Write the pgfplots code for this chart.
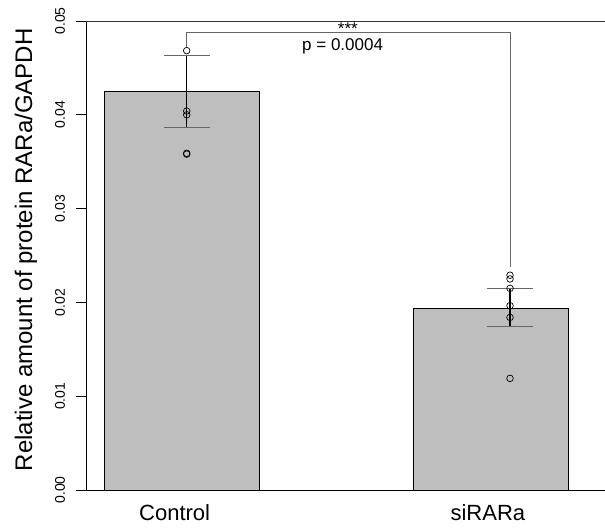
\documentclass[border=0pt]{standalone}
\usepackage{fontspec}
\setmainfont{Liberation Sans}
\usepackage{pgfplots}
\pgfplotsset{compat=1.18}
\definecolor{barfill}{HTML}{BEBEBE}
\begin{document}
\begin{tikzpicture}
\begin{axis}[name=ax, scale only axis, width=519pt, height=469pt,
  xmin=0.382, xmax=3.737, ymin=0, ymax=0.05,
  axis lines*=left,
  axis line style={line width=0.8pt},
  clip=false,
  xtick={0.955,2.98}, xticklabels={Control,siRARa},
  x tick style={draw=none},
  xticklabel style={font=\fontsize{22}{26}\selectfont, anchor=base},
  xticklabel shift=21pt,
  ytick={0,0.01,0.02,0.03,0.04,0.05},
  scaled y ticks=false,
  tick align=outside, major tick length=10pt,
  y tick style={line width=0.8pt, black},
  yticklabel style={font=\fontsize{14}{16}\selectfont, rotate=90, anchor=base},
  yticklabel shift=11pt,
  /pgf/number format/fixed, /pgf/number format/fixed zerofill,
  /pgf/number format/precision=2, /pgf/number format/assume math mode=true,
  ylabel={Relative amount of protein RARa/GAPDH},
  every axis y label/.style={at={(rel axis cs:-0.104,0.512)}, anchor=base, rotate=90, font=\fontsize{24}{28}\selectfont},
]
% bars
\addplot[ybar, bar width=1, fill=barfill, draw=black, line width=0.6pt] coordinates {(1,0.04246) (3,0.01937)};
% error bars
\addplot[draw=none, mark=none, error bars/.cd, y dir=both, y explicit,
  error bar style={draw=black, line width=1.2pt},
  error mark options={rotate=90, mark size=23pt, line width=0.8pt, draw=black!60}]
  coordinates {(1.033,0.04246) +- (0,0.00384) (3.123,0.01945) +- (0,0.00205)};
% individual points
\addplot[only marks, mark=o, mark size=3.3pt, mark options={line width=0.7pt, black}] coordinates {
  (1.033,0.04684) (1.033,0.0404) (1.033,0.0400) (1.033,0.0359) (1.033,0.0358)
  (3.123,0.0229) (3.123,0.0225) (3.123,0.0215) (3.123,0.01965) (3.123,0.0184) (3.123,0.0119)};
% significance bracket
\addplot[line width=0.7pt, black!60] coordinates {(1.033,0.0471) (1.033,0.04875) (3.123,0.04875) (3.123,0.0238)};
\node[anchor=base, font=\fontsize{17}{20}\selectfont] at (axis cs:2.075,0.04861) {***};
\node[anchor=base, font=\fontsize{17}{20}\selectfont] at (axis cs:2.041,0.04683) {p = 0.0004};
\draw[line width=0.8pt, black!80] (rel axis cs:0,1) -- (rel axis cs:1,1);
\draw[line width=0.8pt] ([xshift=-9pt]rel axis cs:0,0) -- (rel axis cs:0,0);
\end{axis}
\pgfresetboundingbox
\path ([xshift=-86pt,yshift=-39pt]ax.south west) rectangle ([yshift=21pt]ax.north east);
\end{tikzpicture}
\end{document}
